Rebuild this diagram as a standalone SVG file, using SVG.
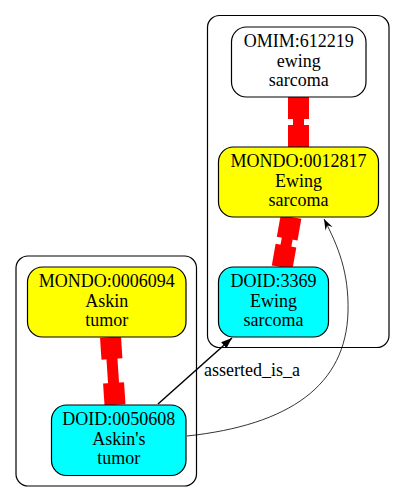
<svg xmlns="http://www.w3.org/2000/svg" width="405" height="503" viewBox="0 0 405 503">
<style>
.cl{fill:none;stroke:#000;stroke-width:1.2}
.nd{stroke:#000;stroke-width:1.2}
text{font-family:'Liberation Serif','Times New Roman',Times,serif;font-size:18px;fill:#000}
.t{text-anchor:middle}
.red{fill:#ff0000}
</style>
<defs>
<marker id="ah" markerWidth="12" markerHeight="10" refX="11" refY="4" orient="auto" markerUnits="userSpaceOnUse">
<path d="M0,0 L11,4 L0,8 Z" fill="#000"/>
</marker>
<marker id="vee" markerWidth="12" markerHeight="10" refX="11" refY="4" orient="auto" markerUnits="userSpaceOnUse">
<path d="M0,0 L11,4 L0,8 L4,4 Z" fill="#000"/>
</marker>
</defs>
<g id="clusters">
<rect class="cl" x="207.5" y="15.5" width="181.5" height="332" rx="12"/>
<rect class="cl" x="16" y="256" width="180.5" height="230" rx="12"/>
</g>
<g id="connectors">
<g id="e1" transform="translate(298.5,97) rotate(0)">
<rect class="red" x="-10.5" y="0" width="21" height="22"/>
<rect class="red" x="-5.5" y="21" width="11" height="8"/>
<rect class="red" x="-10.5" y="28" width="21" height="22"/>
</g>
<g id="e2" transform="translate(291,217) rotate(10)">
<rect class="red" x="-10.5" y="0" width="21" height="22"/>
<rect class="red" x="-5.5" y="21" width="11" height="9"/>
<rect class="red" x="-10.5" y="29" width="21" height="22"/>
</g>
<g id="e3" transform="translate(110.5,337) rotate(-3.8)">
<rect class="red" x="-10.5" y="0" width="21" height="22"/>
<rect class="red" x="-5.5" y="21" width="11" height="26"/>
<rect class="red" x="-10.5" y="46" width="21" height="22"/>
</g>
<path d="M158,404 L232,338" fill="none" stroke="#000" stroke-width="1.5" marker-end="url(#ah)"/>
<text x="204" y="376" font-family="Liberation Serif, serif">asserted_is_a</text>
<path d="M187,436 C290,425 346,385 348,312 C349,272 338,246 324,219" fill="none" stroke="#000" stroke-width="0.8" marker-end="url(#vee)"/>
</g>
<g id="omim612219" font-family="Liberation Serif, serif">
<rect class="nd" x="231.5" y="27" width="134.5" height="70" rx="15" fill="#ffffff"/>
<text class="t" x="298.8" y="47">OMIM:612219</text>
<text class="t" x="298.8" y="66.5">ewing</text>
<text class="t" x="298.8" y="86">sarcoma</text>
</g>
<g id="mondo0012817">
<rect class="nd" x="218.5" y="147" width="160" height="70" rx="15" fill="#ffff00"/>
<text class="t" x="298.5" y="167">MONDO:0012817</text>
<text class="t" x="298.5" y="186.5">Ewing</text>
<text class="t" x="298.5" y="206">sarcoma</text>
</g>
<g id="doid3369">
<rect class="nd" x="218.5" y="267" width="110" height="70" rx="15" fill="#00ffff"/>
<text class="t" x="273.5" y="287">DOID:3369</text>
<text class="t" x="273.5" y="306.5">Ewing</text>
<text class="t" x="273.5" y="326">sarcoma</text>
</g>
<g id="mondo0006094">
<rect class="nd" x="27.5" y="267" width="158.5" height="70" rx="15" fill="#ffff00"/>
<text class="t" x="106.8" y="287">MONDO:0006094</text>
<text class="t" x="106.8" y="306.5">Askin</text>
<text class="t" x="106.8" y="326">tumor</text>
</g>
<g id="doid0050608">
<rect class="nd" x="51.5" y="405" width="134.5" height="70.5" rx="15" fill="#00ffff"/>
<text class="t" x="118.8" y="425">DOID:0050608</text>
<text class="t" x="118.8" y="444.5">Askin's</text>
<text class="t" x="118.8" y="464">tumor</text>
</g>
</svg>
